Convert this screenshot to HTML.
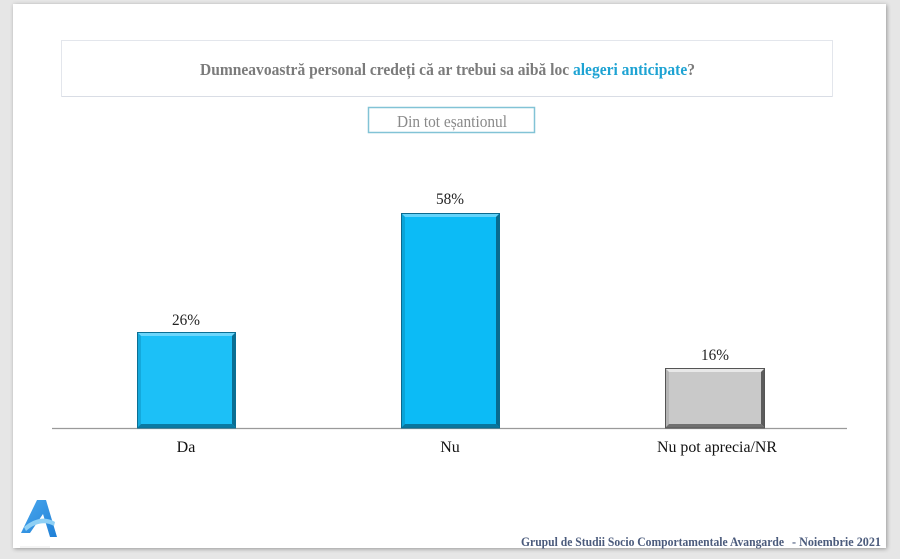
<!DOCTYPE html>
<html>
<head>
<meta charset="utf-8">
<style>
  html,body{margin:0;padding:0;background:#e6e6e6;}
  body{width:900px;height:559px;overflow:hidden;}
  svg{display:block;}
</style>
</head>
<body>
<svg width="900" height="559" viewBox="0 0 900 559" xmlns="http://www.w3.org/2000/svg">
  <defs>
    <filter id="sh" x="-5%" y="-5%" width="110%" height="110%">
      <feGaussianBlur in="SourceAlpha" stdDeviation="2"/>
      <feOffset dx="1" dy="1" result="b"/>
      <feComponentTransfer><feFuncA type="linear" slope="0.35"/></feComponentTransfer>
      <feMerge><feMergeNode/><feMergeNode in="SourceGraphic"/></feMerge>
    </filter>
    <linearGradient id="logoG" x1="0" y1="0" x2="1" y2="1">
      <stop offset="0" stop-color="#4aa8ee"/>
      <stop offset="1" stop-color="#1f7fd6"/>
    </linearGradient>
  </defs>

  <rect x="0" y="0" width="900" height="559" fill="#e6e6e6"/>
  <!-- slide -->
  <rect x="13" y="4" width="873" height="544" fill="#ffffff" filter="url(#sh)"/>

  <!-- title box -->
  <rect x="61.5" y="40.5" width="771" height="56" fill="#ffffff" stroke="#e3e6ec" stroke-width="1"/>
  <line x1="62" y1="96.5" x2="832" y2="96.5" stroke="#d9dde5" stroke-width="1"/>
  <text x="200" y="75" font-family="'Liberation Serif', serif" font-weight="bold" font-size="17" fill="#7b7b7b" textLength="495" lengthAdjust="spacingAndGlyphs">Dumneavoastră personal credeți că ar trebui sa aibă loc <tspan fill="#1ea3d3">alegeri anticipate</tspan>?</text>

  <!-- subtitle box -->
  <rect x="368.5" y="107.5" width="166" height="25" fill="#ffffff" stroke="#82c3d6" stroke-width="1.5"/>
  <text x="397" y="127" font-family="'Liberation Serif', serif" font-size="16.5" fill="#8a8a8a" textLength="110" lengthAdjust="spacingAndGlyphs">Din tot eșantionul</text>

  <!-- axis -->
  <line x1="52" y1="428.5" x2="847" y2="428.5" stroke="#9a9a9a" stroke-width="1.2"/>

  <!-- Bar Da -->
  <g>
    <rect x="137" y="332" width="99" height="96" fill="#1cc0f7"/>
    <polygon points="137,332 236,332 232,336 141,336" fill="#6cd6fb"/>
    <polygon points="137,332 141,336 141,424 137,428" fill="#14a9dc"/>
    <polygon points="236,332 232,336 232,424 236,428" fill="#0a6e93"/>
    <polygon points="137,428 141,424 232,424 236,428" fill="#0a7aa3"/>
    <rect x="137.5" y="332.5" width="98" height="95.5" fill="none" stroke="#0b6f94" stroke-width="1"/>
  </g>
  <!-- Bar Nu -->
  <g>
    <rect x="401" y="213" width="99" height="215" fill="#0cbbf6"/>
    <polygon points="401,213 500,213 496,217 405,217" fill="#63d3fa"/>
    <polygon points="401,213 405,217 405,424 401,428" fill="#0aa4d8"/>
    <polygon points="500,213 496,217 496,424 500,428" fill="#086a8f"/>
    <polygon points="401,428 405,424 496,424 500,428" fill="#08769e"/>
    <rect x="401.5" y="213.5" width="98" height="214.5" fill="none" stroke="#0a6a8f" stroke-width="1"/>
  </g>
  <!-- Bar NR -->
  <g>
    <rect x="665" y="368" width="100" height="60" fill="#c9c9c9"/>
    <polygon points="665,368 765,368 761,372 669,372" fill="#e8e8e8"/>
    <polygon points="665,368 669,372 669,424 665,428" fill="#b5b5b5"/>
    <polygon points="765,368 761,372 761,424 765,428" fill="#5c5c5c"/>
    <polygon points="665,428 669,424 761,424 765,428" fill="#707070"/>
    <rect x="665.5" y="368.5" width="99" height="59.5" fill="none" stroke="#555" stroke-width="1"/>
  </g>

  <!-- value labels -->
  <g font-family="'Liberation Serif', serif" font-size="16" fill="#222" text-anchor="middle">
    <text x="186" y="325" textLength="28" lengthAdjust="spacingAndGlyphs">26%</text>
    <text x="450" y="204" textLength="28" lengthAdjust="spacingAndGlyphs">58%</text>
    <text x="715" y="360" textLength="28" lengthAdjust="spacingAndGlyphs">16%</text>
  </g>
  <!-- category labels -->
  <g font-family="'Liberation Serif', serif" font-size="16" fill="#111" text-anchor="middle">
    <text x="186" y="452">Da</text>
    <text x="450" y="452">Nu</text>
    <text x="717" y="452" textLength="120" lengthAdjust="spacingAndGlyphs">Nu pot aprecia/NR</text>
  </g>

  <!-- logo -->
  <g>
    <path d="M21,533 L37,500 L46,500 L57,537 L50,537 L43,514 L30,533 Z" fill="url(#logoG)"/>
    <path d="M24,527 C34,518 46,516 55,522 L54,526 C45,521 35,523 26,531 Z" fill="#8fd0f5"/>
  </g>
  <line x1="20" y1="547" x2="50" y2="547" stroke="#e8e8e8" stroke-width="1"/>

  <!-- footer -->
  <text x="521" y="546" font-family="'Liberation Serif', serif" font-weight="bold" font-size="13" fill="#4b5b7c" textLength="263" lengthAdjust="spacingAndGlyphs">Grupul de Studii Socio Comportamentale Avangarde</text>
  <text x="792" y="546" font-family="'Liberation Serif', serif" font-weight="bold" font-size="13" fill="#4b5b7c" textLength="89" lengthAdjust="spacingAndGlyphs">- Noiembrie 2021</text>
</svg>
</body>
</html>
